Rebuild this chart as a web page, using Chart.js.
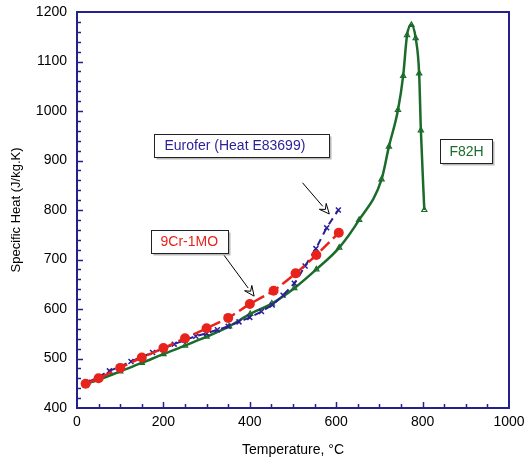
<!DOCTYPE html>
<html>
<head>
<meta charset="utf-8">
<script src="https://cdn.jsdelivr.net/npm/chart.js@4/dist/chart.umd.min.js"></script>
<style>
  html, body { margin: 0; padding: 0; background: #ffffff; }
  #wrap { width: 526px; height: 464px; }
</style>
</head>
<body>
<div id="wrap"><canvas id="c" width="526" height="464"></canvas></div>
<script>
// Specific heat vs temperature for three ferritic/martensitic steels

// 9Cr-1Mo
const temp9Cr = [20, 50, 100, 150, 200, 250, 300, 350, 400, 455, 506, 554, 606];
const heat9Cr = [449, 460, 481, 502, 521, 541, 561, 582, 610, 637, 672, 709, 754];

// Eurofer, heat E83699
const tempEurofer = [25, 50, 75, 100, 125, 150, 175, 200, 225, 250, 275, 300,
                     325, 350, 375, 400, 427, 452, 477, 503, 528, 553, 578, 605];
const heatEurofer = [452, 463, 475, 484, 494, 503, 512, 520, 529, 537, 545, 551,
                     558, 565, 574, 583, 595, 608, 628, 652, 687, 722, 764, 800];

// F82H
const tempF82H = [20, 50, 100, 150, 200, 250, 300, 352, 401, 451, 503, 554, 607,
                  653, 705, 722, 743, 755, 764, 774, 784, 792, 796, 804];
const heatF82H = [449, 457, 474, 491, 509, 526, 544, 565, 590, 611, 642, 680, 724,
                  780, 862, 928, 1002, 1071, 1153, 1174, 1147, 1076, 961, 800];

// Axis ranges and tick labels
const xTicks = [0, 200, 400, 600, 800, 1000];
const yTicks = [400, 500, 600, 700, 800, 900, 1000, 1100, 1200];

const NAVY = '#24208c';
const RED = '#e8231b';
const BLUE = '#2a1f96';
const GREEN = '#1b6b2b';
const FONT = 'Liberation Sans, Arial, sans-serif';

const toPoints = (xs, ys) => xs.map((x, i) => ({ x: x, y: ys[i] }));

// Callout boxes and leader arrows, placed in data units
const callouts = [
  { text: 'Eurofer (Heat E83699)', color: BLUE, x0: 179, x1: 584, y0: 954, y1: 908, pad: 10 },
  { text: '9Cr-1MO', color: RED, x0: 172, x1: 349, y0: 760, y1: 713, pad: 9 },
  { text: 'F82H', color: GREEN, x0: 840, x1: 960, y0: 943, y1: 895, pad: 9 }
];
const leaders = [
  { x0: 522, y0: 855, x1: 584, y1: 792 },
  { x0: 340, y0: 709, x1: 410, y1: 626 }
];

// Frame with inward tick marks
const framePlugin = {
  id: 'frame',
  afterDatasetsDraw(chart) {
    const { ctx, chartArea: a, scales: { x, y } } = chart;
    ctx.save();
    ctx.strokeStyle = NAVY;
    ctx.lineWidth = 1.5;
    ctx.beginPath();
    for (let v = 50; v < 1000; v += 50) {
      const px = Math.round(x.getPixelForValue(v)) + 0.5;
      const len = v % 200 === 0 ? 6 : 4;
      ctx.moveTo(px, a.bottom);
      ctx.lineTo(px, a.bottom - len);
    }
    for (let v = 420; v < 1200; v += 20) {
      const py = Math.round(y.getPixelForValue(v)) + 0.5;
      const len = v % 100 === 0 ? 6 : 4;
      ctx.moveTo(a.left, py);
      ctx.lineTo(a.left + len, py);
    }
    ctx.stroke();
    ctx.lineWidth = 2;
    ctx.strokeRect(a.left, a.top, a.right - a.left, a.bottom - a.top);
    ctx.restore();
  },
  afterDraw(chart) {
    const { ctx, scales: { x, y } } = chart;
    ctx.save();
    // leader arrows with open heads
    ctx.strokeStyle = '#000';
    ctx.lineWidth = 1;
    leaders.forEach(l => {
      const sx = x.getPixelForValue(l.x0), sy = y.getPixelForValue(l.y0);
      const tx = x.getPixelForValue(l.x1), ty = y.getPixelForValue(l.y1);
      const ang = Math.atan2(ty - sy, tx - sx);
      const hl = 10, hw = 4.5;
      const bx = tx - hl * Math.cos(ang), by = ty - hl * Math.sin(ang);
      ctx.beginPath();
      ctx.moveTo(sx, sy);
      ctx.lineTo(bx, by);
      ctx.stroke();
      ctx.beginPath();
      ctx.moveTo(tx, ty);
      ctx.lineTo(bx + hw * Math.sin(ang), by - hw * Math.cos(ang));
      ctx.lineTo(bx + 0.4 * hl * Math.cos(ang), by + 0.4 * hl * Math.sin(ang));
      ctx.lineTo(bx - hw * Math.sin(ang), by + hw * Math.cos(ang));
      ctx.closePath();
      ctx.fillStyle = '#fff';
      ctx.fill();
      ctx.stroke();
    });
    // labelled boxes
    ctx.font = '14px ' + FONT;
    ctx.textBaseline = 'middle';
    ctx.textAlign = 'left';
    callouts.forEach(c => {
      const l = Math.round(x.getPixelForValue(c.x0)) + 0.5;
      const r = Math.round(x.getPixelForValue(c.x1)) + 0.5;
      const t = Math.round(y.getPixelForValue(c.y0)) + 0.5;
      const b = Math.round(y.getPixelForValue(c.y1)) + 0.5;
      ctx.fillStyle = '#b8b8b8';
      ctx.fillRect(l + 2, t + 2, r - l, b - t);
      ctx.fillStyle = '#fff';
      ctx.fillRect(l, t, r - l, b - t);
      ctx.strokeStyle = '#222';
      ctx.lineWidth = 1;
      ctx.strokeRect(l, t, r - l, b - t);
      ctx.fillStyle = c.color;
      ctx.fillText(c.text, l + c.pad, (t + b) / 2 + 0.5);
    });
    ctx.restore();
  }
};

new Chart(document.getElementById('c'), {
  type: 'line',
  data: {
    datasets: [
      {
        label: '9Cr-1MO',
        data: toPoints(temp9Cr, heat9Cr),
        borderColor: RED,
        backgroundColor: RED,
        borderWidth: 2.5,
        borderDash: [12, 5],
        pointStyle: 'circle',
        pointRadius: 5,
        pointBorderWidth: 0,
        tension: 0.2
      },
      {
        label: 'Eurofer (Heat E83699)',
        data: toPoints(tempEurofer, heatEurofer),
        borderColor: BLUE,
        backgroundColor: BLUE,
        borderWidth: 2,
        borderDash: [7, 5],
        pointStyle: 'crossRot',
        pointRadius: 3.5,
        pointBorderWidth: 1.5,
        tension: 0.2
      },
      {
        label: 'F82H',
        data: toPoints(tempF82H, heatF82H),
        borderColor: GREEN,
        backgroundColor: 'rgba(255,255,255,0)',
        borderWidth: 2.5,
        pointStyle: 'triangle',
        pointRadius: 3,
        pointBorderWidth: 1.2,
        pointBorderColor: GREEN,
        cubicInterpolationMode: 'monotone'
      }
    ]
  },
  options: {
    responsive: false,
    animation: false,
    devicePixelRatio: 1,
    layout: { padding: { left: 0, top: 12, right: 17, bottom: 0 } },
    plugins: { legend: { display: false }, tooltip: { enabled: false } },
    scales: {
      x: {
        type: 'linear',
        min: 0,
        max: 1000,
        afterFit(s) { s.height = 56; s.paddingLeft = 0; s.paddingRight = 0; },
        afterBuildTicks(s) { s.ticks = xTicks.map(v => ({ value: v })); },
        grid: { display: false, drawTicks: false },
        border: { display: false },
        ticks: {
          color: '#000', padding: 6, maxRotation: 0,
          font: { family: FONT, size: 14 },
          callback: v => String(v)
        },
        title: {
          display: true,
          text: 'Temperature, °C',
          color: '#000',
          font: { family: FONT, size: 14 },
          padding: { top: 0, bottom: 5 }
        }
      },
      y: {
        type: 'linear',
        min: 400,
        max: 1200,
        afterFit(s) { s.width = 77; s.paddingTop = 0; s.paddingBottom = 0; },
        afterBuildTicks(s) { s.ticks = yTicks.map(v => ({ value: v })); },
        grid: { display: false, drawTicks: false },
        border: { display: false },
        ticks: {
          color: '#000', padding: 10,
          font: { family: FONT, size: 14 },
          callback: v => String(v)
        },
        title: {
          display: true,
          text: 'Specific Heat (J/kg.K)',
          color: '#000',
          font: { family: FONT, size: 13 },
          padding: { top: 9, bottom: 0 }
        }
      }
    }
  },
  plugins: [framePlugin]
});
</script>
</body>
</html>
